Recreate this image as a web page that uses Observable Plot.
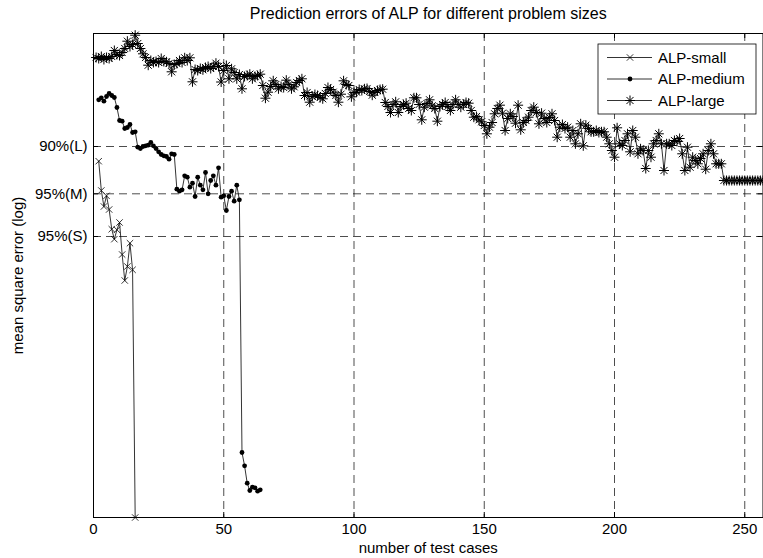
<!DOCTYPE html>
<html>
<head>
<meta charset="utf-8">
<script src="https://cdn.jsdelivr.net/npm/d3@7"></script>
<script src="https://cdn.jsdelivr.net/npm/@observablehq/plot@0.6"></script>
<style>
  body { margin: 0; background: white; }
  #chart svg { display: block; }
</style>
</head>
<body>
<div id="chart"></div>
<script>
// ---------- data ----------
const title = "Prediction errors of ALP for different problem sizes";
const xLabel = "number of test cases";
const yLabel = "mean square error (log)";
const seriesNames = ["ALP-small", "ALP-medium", "ALP-large"];

const xTicks = [0, 50, 100, 150, 200, 250];
const xGrid = [50, 100, 150, 200, 250];
const yTickValues = [-1.13, -1.603, -2.03];
const yTickLabels = ["90%(L)", "95%(M)", "95%(S)"];

const smallStart = 2;
const smallY = [-1.277, -1.57, -1.73, -1.623, -1.76, -1.957, -2.057, -1.963, -1.89, -2.21,
  -2.47, -2.33, -2.097, -2.363, -4.84];

const mediumStart = 2;
const mediumY = [-0.663, -0.643, -0.677, -0.63, -0.60, -0.62, -0.64, -0.74, -0.87, -0.877,
  -0.95, -0.94, -0.91, -0.99, -0.983, -1.137, -1.15, -1.13, -1.123, -1.117,
  -1.09, -1.123, -1.15, -1.183, -1.21, -1.223, -1.23, -1.257, -1.203, -1.21,
  -1.557, -1.577, -1.563, -1.423, -1.437, -1.537, -1.497, -1.63, -1.437, -1.517,
  -1.563, -1.39, -1.603, -1.47, -1.423, -1.517, -1.343, -1.637, -1.623, -1.77,
  -1.63, -1.577, -1.677, -1.517, -1.663, -4.19, -4.323, -4.497, -4.57, -4.537,
  -4.543, -4.577, -4.563];

const largeStart = 1;
const largeY = [
  -0.24, -0.25, -0.23, -0.26, -0.24, -0.25, -0.23, -0.17, -0.21, -0.22,
  -0.19, -0.15, -0.077, -0.13, -0.11, -0.017, -0.10, -0.15, -0.203, -0.24,
  -0.317, -0.27, -0.29, -0.28, -0.29, -0.25, -0.28, -0.283, -0.30, -0.383,
  -0.31, -0.30, -0.27, -0.29, -0.243, -0.27, -0.243, -0.483, -0.36, -0.37,
  -0.35, -0.363, -0.34, -0.33, -0.35, -0.33, -0.297, -0.33, -0.485, -0.37,
  -0.32, -0.453, -0.353, -0.39, -0.453, -0.41, -0.553, -0.43, -0.42, -0.407,
  -0.453, -0.43, -0.42, -0.407, -0.52, -0.647, -0.587, -0.53, -0.473, -0.51,
  -0.553, -0.53, -0.54, -0.467, -0.51, -0.553, -0.533, -0.49, -0.47, -0.453,
  -0.62, -0.59, -0.687, -0.63, -0.61, -0.62, -0.64, -0.653, -0.60, -0.54,
  -0.56, -0.587, -0.62, -0.687, -0.607, -0.473, -0.51, -0.52, -0.633, -0.59,
  -0.587, -0.56, -0.57, -0.553, -0.55, -0.58, -0.617, -0.59, -0.57, -0.56,
  -0.557, -0.69, -0.73, -0.79, -0.71, -0.683, -0.79, -0.73, -0.71, -0.697,
  -0.75, -0.77, -0.643, -0.643, -0.71, -0.863, -0.737, -0.70, -0.663, -0.723,
  -0.75, -0.877, -0.73, -0.71, -0.69, -0.73, -0.77, -0.71, -0.663, -0.71,
  -0.737, -0.71, -0.69, -0.697, -0.77, -0.837, -0.83, -0.863, -0.883, -0.92,
  -1.003, -0.937, -0.89, -0.803, -0.75, -0.717, -0.797, -0.97, -0.85, -0.803,
  -0.83, -0.897, -0.717, -0.963, -0.89, -0.87, -0.837, -0.77, -0.737, -0.79,
  -0.903, -0.797, -0.85, -0.89, -0.84, -0.803, -0.87, -1.037, -0.937, -0.91,
  -0.95, -0.937, -1.037, -0.97, -1.103, -1.003, -0.903, -1.123, -0.917, -0.95,
  -0.983, -0.983, -0.97, -0.99, -0.983, -0.983, -1.037, -1.103, -1.17, -1.237,
  -0.943, -1.103, -1.12, -1.07, -1.003, -1.183, -0.97, -1.037, -1.203, -1.153,
  -1.17, -1.35, -1.17, -1.237, -1.103, -1.07, -1.003, -1.103, -1.37, -1.103,
  -1.103, -1.12, -1.07, -1.08, -1.05, -1.203, -1.37, -1.137, -1.337, -1.237,
  -1.27, -1.303, -1.25, -1.203, -1.357, -1.17, -1.103, -1.203, -1.303, -1.303,
  -1.303, -1.47, -1.47, -1.47, -1.47, -1.47, -1.47, -1.47, -1.47, -1.47,
  -1.47, -1.47, -1.47, -1.47, -1.47, -1.47, -1.47];

const xDomain = [0, 257];
const yDomain = [-4.84, 0];

// ---------- build tables ----------
const toRows = (start, ys) => ys.map((y, i) => ({x: start + i, y}));
const small = toRows(smallStart, smallY);
const medium = toRows(mediumStart, mediumY);
const large = toRows(largeStart, largeY);

// MATLAB-like '*' marker (8 arms)
const starSymbol = {
  draw(ctx, size) {
    const r = Math.sqrt(size / Math.PI);
    const d = r * Math.SQRT1_2;
    ctx.moveTo(-r, 0); ctx.lineTo(r, 0);
    ctx.moveTo(0, -r); ctx.lineTo(0, r);
    ctx.moveTo(-d, -d); ctx.lineTo(d, d);
    ctx.moveTo(-d, d); ctx.lineTo(d, -d);
  }
};

const labelMap = new Map(yTickValues.map((v, i) => [v, yTickLabels[i]]));
const W = 763, H = 558, mL = 93, mR = 0.5, mT = 33, mB = 41;
const tickLenX = 5 * (xDomain[1] - xDomain[0]) / (W - mL - mR);
const tickLenY = 5 * (yDomain[1] - yDomain[0]) / (H - mT - mB);

const grid = {stroke: "black", strokeWidth: 0.7, strokeDasharray: "8,5"};
const lineStyle = {x: "x", y: "y", stroke: "black", strokeWidth: 0.8};
const starR = 5;

const chart = Plot.plot({
  width: W, height: H,
  marginLeft: mL, marginRight: mR, marginTop: mT, marginBottom: mB,
  x: {domain: xDomain},
  y: {domain: yDomain},
  style: {fontFamily: "'Liberation Sans', Arial, Helvetica, sans-serif", fontSize: "15px", background: "white", color: "black"},
  marks: [
    Plot.ruleX(xGrid, grid),
    Plot.ruleY(yTickValues, grid),
    Plot.line(large, lineStyle),
    Plot.dot(large, {x: "x", y: "y", symbol: starSymbol, r: starR, stroke: "black", strokeWidth: 1, fill: "none"}),
    Plot.line(medium, lineStyle),
    Plot.dot(medium, {x: "x", y: "y", r: 2.4, fill: "black", stroke: "none"}),
    Plot.line(small, lineStyle),
    Plot.dot(small, {x: "x", y: "y", symbol: "times", r: 3, stroke: "black", strokeWidth: 0.8}),
    // inward tick marks
    Plot.ruleX(xTicks, {x: d => d, y1: yDomain[0], y2: yDomain[0] + tickLenY, stroke: "black", strokeWidth: 1}),
    Plot.ruleX(xTicks, {x: d => d, y1: yDomain[1], y2: yDomain[1] - tickLenY, stroke: "black", strokeWidth: 1}),
    Plot.ruleY(yTickValues, {y: d => d, x1: xDomain[0], x2: xDomain[0] + tickLenX, stroke: "black", strokeWidth: 1}),
    Plot.ruleY(yTickValues, {y: d => d, x1: xDomain[1], x2: xDomain[1] - tickLenX, stroke: "black", strokeWidth: 1}),
    Plot.frame({stroke: "black", strokeWidth: 1}),
    Plot.axisX({ticks: xTicks, tickSize: 0, tickPadding: 6, label: null, fill: "black"}),
    Plot.axisY({ticks: yTickValues, tickSize: 0, tickPadding: 6, label: null, tickFormat: d => labelMap.get(d), fill: "black"}),
    Plot.text([xLabel], {text: d => d, frameAnchor: "bottom", dy: 31, lineAnchor: "middle", fill: "black"}),
    Plot.text([yLabel], {text: d => d, frameAnchor: "left", textAnchor: "middle", dx: -75, rotate: -90, lineAnchor: "middle", fill: "black"}),
    Plot.text([title], {text: d => d, frameAnchor: "top", dy: -20, lineAnchor: "middle", fill: "black", fontSize: 16})
  ]
});

document.getElementById("chart").appendChild(chart);

// ---------- legend (drawn into the plot svg) ----------
const svg = d3.select(chart);
const lg = svg.append("g").attr("font-family", "'Liberation Sans', Arial, sans-serif").attr("font-size", 15)
  .attr("text-anchor", "start");
const box = {x: 598, y: 44, w: 158, h: 70};
lg.append("rect").attr("x", box.x).attr("y", box.y).attr("width", box.w).attr("height", box.h)
  .attr("fill", "white").attr("stroke", "black").attr("stroke-width", 0.8);
const rowsY = [57.5, 79, 100.5];
const sym = [
  d3.symbol(d3.symbolTimes, 3 * 3 * Math.PI)(),
  d3.symbol(d3.symbolCircle, 2.4 * 2.4 * Math.PI)(),
  d3.symbol(starSymbol, starR * starR * Math.PI)()
];
seriesNames.forEach((name, i) => {
  const y = rowsY[i];
  lg.append("line").attr("x1", 607).attr("x2", 652).attr("y1", y).attr("y2", y)
    .attr("stroke", "black").attr("stroke-width", 0.8);
  lg.append("path").attr("d", sym[i]).attr("transform", `translate(630,${y})`)
    .attr("stroke", i === 1 ? "none" : "black").attr("stroke-width", i === 2 ? 1 : 0.8)
    .attr("fill", i === 1 ? "black" : "none");
  lg.append("text").attr("x", 658).attr("y", y).attr("dy", "0.35em").attr("text-anchor", "start")
    .attr("fill", "black").text(name);
});
</script>
</body>
</html>
